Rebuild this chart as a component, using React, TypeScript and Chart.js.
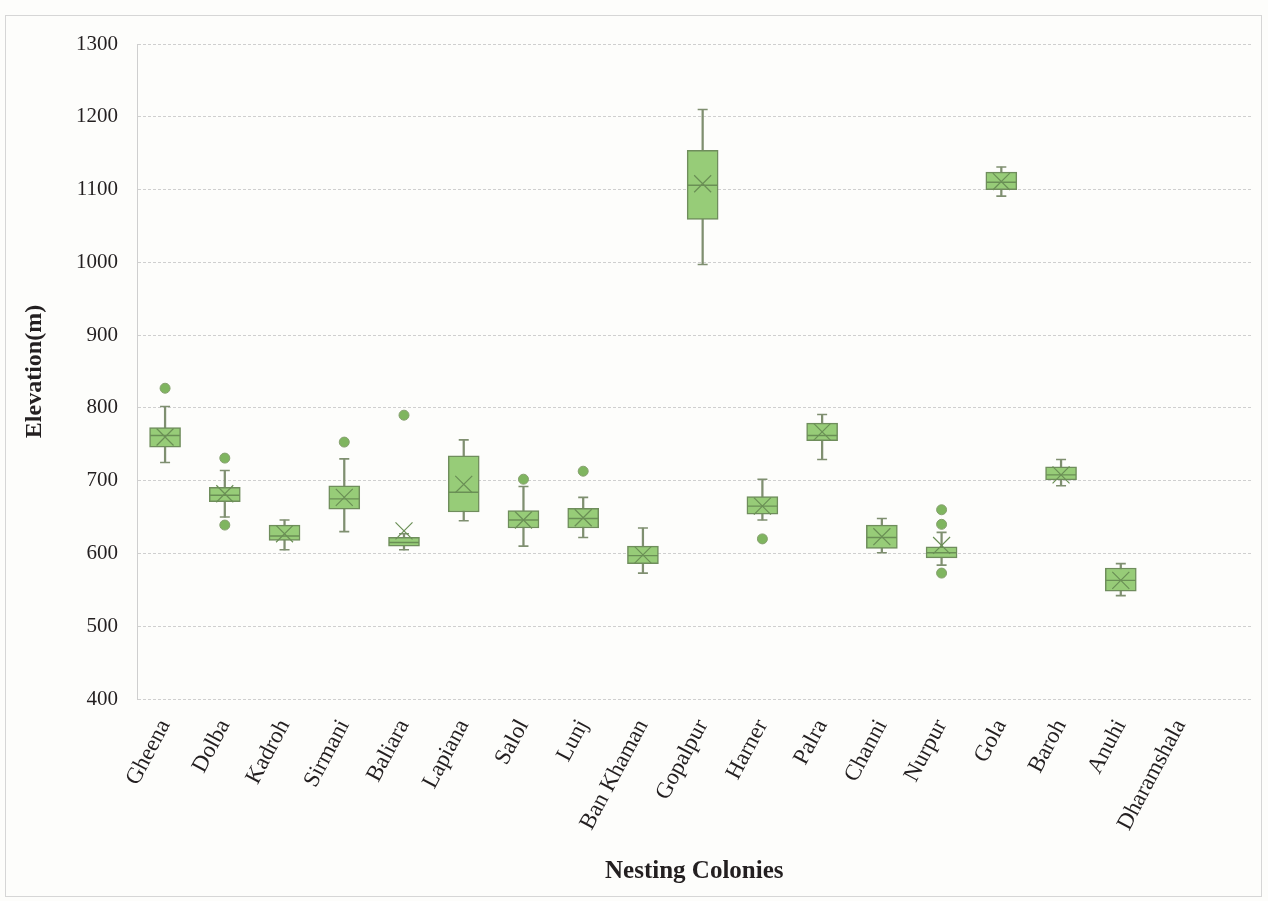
import React, { useEffect, useRef } from "react";
import { Chart, registerables } from "chart.js";

Chart.register(...registerables);

// Nesting colonies along the category axis
const categories = [
  "Gheena", "Dolba", "Kadroh", "Sirmani", "Baliara", "Lapiana", "Salol", "Lunj",
  "Ban Khaman", "Gopalpur", "Harner", "Palra", "Channi", "Nurpur", "Gola", "Baroh",
  "Anuhi", "Dharamshala",
];

// Five-number summaries of elevation (m) per colony; null = no data
const mins: (number | null)[] = [725, 650, 605, 630, 605, 645, 610, 622, 573, 997, 646, 729, 601, 584, 1091, 693, 542, null];
const q1s: (number | null)[] = [746, 671, 618, 661, 610, 657, 635, 635, 586, 1059, 654, 755, 607, 594, 1100, 701, 548, null];
const medians: (number | null)[] = [762, 680, 624, 675, 615, 684, 646, 648, 597, 1106, 665, 762, 622, 601, 1110, 708, 563, null];
const q3s: (number | null)[] = [773, 691, 639, 693, 622, 734, 659, 662, 610, 1154, 678, 779, 639, 609, 1124, 719, 580, null];
const maxs: (number | null)[] = [802, 714, 646, 730, 627, 756, 692, 677, 635, 1210, 702, 791, 648, 629, 1131, 729, 586, null];
const means: (number | null)[] = [760, 682, 627, 677, 631, 695, 646, 649, 598, 1108, 665, 767, 623, 611, 1111, 708, 563, null];
const outliers: number[][] = [
  [827], [731, 639], [], [753], [790], [], [702], [713], [], [], [620], [], [], [660, 640, 573], [], [], [], [],
];

// Elevation axis
const yMin = 400;
const yMax = 1300;
const yStep = 100;

const FONT = '"Liberation Serif", "Times New Roman", serif';
const TEXT = "#231f20";
const BOX_FILL = "#97cc78";
const BOX_EDGE = "#6f8d5c";
const WHISKER = "#7f8f70";
const MARK = "#6a8f55";

function pts(values: (number | null)[]) {
  const out: { x: number; y: number }[] = [];
  values.forEach((v, i) => {
    if (v !== null) out.push({ x: i, y: v });
  });
  return out;
}

function ranges(lo: (number | null)[], hi: (number | null)[]) {
  const out: { x: number; y: [number, number] }[] = [];
  lo.forEach((v, i) => {
    const h = hi[i];
    if (v !== null && h !== null) out.push({ x: i, y: [v, h] });
  });
  return out;
}

export default function App() {
  const canvasRef = useRef<HTMLCanvasElement | null>(null);

  useEffect(() => {
    if (!canvasRef.current) return;

    const outlierPoints: { x: number; y: number }[] = [];
    outliers.forEach((list, i) => list.forEach((v) => outlierPoints.push({ x: i, y: v })));

    const chart = new Chart(canvasRef.current, {
      type: "bar",
      data: {
        datasets: [
          {
            type: "bar",
            label: "whisker",
            data: ranges(mins, maxs) as any,
            backgroundColor: WHISKER,
            borderWidth: 0,
            barThickness: 1.6,
            grouped: false,
            order: 5,
          },
          {
            type: "bar",
            label: "box",
            data: ranges(q1s, q3s) as any,
            backgroundColor: BOX_FILL,
            borderColor: BOX_EDGE,
            borderWidth: 1.5,
            borderSkipped: false,
            barThickness: 31,
            grouped: false,
            order: 4,
          },
          {
            type: "scatter",
            label: "caps",
            data: [...pts(mins), ...pts(maxs)],
            pointStyle: "line",
            pointRadius: 5,
            borderColor: WHISKER,
            borderWidth: 1.6,
            order: 3,
          },
          {
            type: "scatter",
            label: "median",
            data: pts(medians),
            pointStyle: "line",
            pointRadius: 15,
            borderColor: MARK,
            borderWidth: 1.4,
            order: 2,
          },
          {
            type: "scatter",
            label: "mean",
            data: pts(means),
            pointStyle: "crossRot",
            pointRadius: 12,
            borderColor: MARK,
            borderWidth: 1.2,
            order: 1,
          },
          {
            type: "scatter",
            label: "outliers",
            data: outlierPoints,
            pointStyle: "circle",
            pointRadius: 5,
            backgroundColor: "#7fb55f",
            borderColor: "#86a06f",
            borderWidth: 1,
            order: 0,
          },
        ] as any,
      },
      options: {
        animation: false,
        responsive: false,
        events: [],
        layout: { padding: { left: 0, top: 44, right: 16, bottom: 0 } },
        plugins: {
          legend: { display: false },
          tooltip: { enabled: false },
        },
        scales: {
          x: {
            type: "linear",
            min: -0.47,
            max: 18.19,
            bounds: "data",
            offset: false,
            grid: { display: false, offset: false },
            border: { display: false },
            afterFit: (scale: any) => {
              scale.height = 202;
            },
            afterBuildTicks: (scale: any) => {
              scale.ticks = categories.map((_, i) => ({ value: i }));
            },
            ticks: {
              autoSkip: false,
              minRotation: 62,
              maxRotation: 62,
              padding: 8,
              color: TEXT,
              font: { family: FONT, size: 23 },
              callback: (value: any) => categories[Math.round(Number(value))] ?? "",
            },
            title: {
              display: true,
              text: "Nesting Colonies",
              color: TEXT,
              font: { family: FONT, size: 25, weight: "bold" },
              padding: { top: 0, bottom: 14 },
            },
          },
          y: {
            min: yMin,
            max: yMax,
            afterFit: (scale: any) => {
              scale.width = 137;
            },
            ticks: {
              stepSize: yStep,
              padding: 19,
              color: TEXT,
              font: { family: FONT, size: 21 },
              callback: (value: any) => String(value),
            },
            grid: {
              color: "#cfcfcf",
              lineWidth: 1,
              drawTicks: false,
            },
            border: { display: true, color: "#cfcfcf", dash: [3, 2] },
            title: {
              display: true,
              text: "Elevation(m)",
              color: TEXT,
              font: { family: FONT, size: 24, weight: "bold" },
              padding: { top: 20, bottom: 0 },
            },
          },
        },
      } as any,
    });

    return () => chart.destroy();
  }, []);

  return (
    <div
      style={{
        position: "fixed",
        left: 0,
        top: 0,
        width: 1268,
        height: 901,
        background: "#fdfdfb",
      }}
    >
      <div
        style={{
          position: "absolute",
          left: 5,
          top: 15,
          width: 1257,
          height: 882,
          border: "1px solid #d6d6d6",
          boxSizing: "border-box",
        }}
      />
      <canvas
        ref={canvasRef}
        width={1268}
        height={901}
        style={{ position: "absolute", left: 0, top: 0 }}
      />
    </div>
  );
}
